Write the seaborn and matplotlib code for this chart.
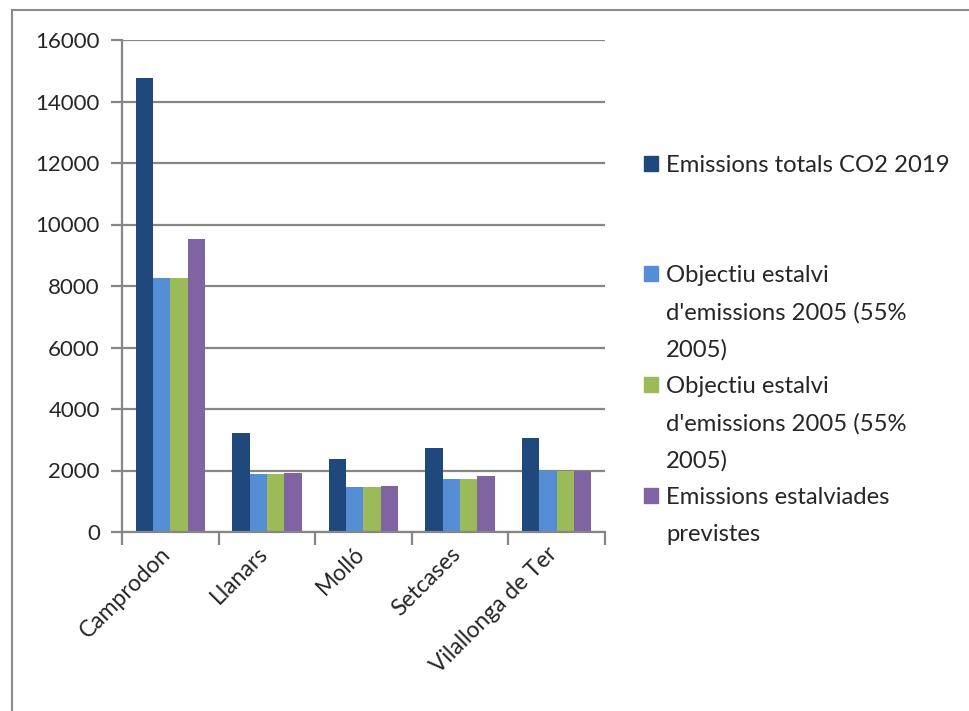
import numpy as np
import pandas as pd
import matplotlib
matplotlib.use('Agg')
import matplotlib.pyplot as plt
import matplotlib.patches as mpatches
import matplotlib.transforms as mtransforms
import seaborn as sns

municipis = ['Camprodon', 'Llanars', 'Molló', 'Setcases', 'Vilallonga de Ter']
series = ['Emissions totals CO2 2019',
          "Objectiu estalvi d'emissions 2005 (55% 2005)",
          "Objectiu estalvi d'emissions 2005 (55% 2005)",
          'Emissions estalviades previstes']
emissions_2019 = [14750, 3210, 2360, 2730, 3045]
objectiu_a = [8260, 1900, 1460, 1735, 1970]
objectiu_b = [8260, 1900, 1460, 1735, 1970]
estalviades = [9540, 1930, 1505, 1810, 1970]
colors = ['#1F497D', '#558ED5', '#9BBB59', '#8064A2']
# legend text, wrapped the way the original chart wraps it (None = empty line)
legend_lines = [['Emissions totals CO2 2019', None, None],
                ['Objectiu estalvi', "d'emissions 2005 (55%", '2005)'],
                ['Objectiu estalvi', "d'emissions 2005 (55%", '2005)'],
                ['Emissions estalviades', 'previstes']]

keys = ['s1', 's2', 's3', 's4']
df = pd.DataFrame({
    'municipi': municipis * 4,
    'serie': np.repeat(keys, len(municipis)),
    'valor': emissions_2019 + objectiu_a + objectiu_b + estalviades,
})

sns.set_style('white')
plt.rcParams['font.family'] = ['Lato', 'DejaVu Sans']

fig = plt.figure(figsize=(9.7, 7.11), dpi=100)
ax = fig.add_axes([122 / 970, 1 - 532 / 711, (605 - 122) / 970, (532 - 40) / 711])

sns.barplot(data=df, x='municipi', y='valor', hue='serie', order=municipis,
            hue_order=keys, palette=colors, width=0.72, gap=0,
            saturation=1, edgecolor='none', legend=False, ax=ax)

grid = '#868686'
ax.set_ylim(0, 16000)
ax.set_xlim(-0.5, 4.5)
ax.set_yticks(range(0, 16001, 2000))
ax.yaxis.grid(True, color=grid, linewidth=1.6)
ax.set_axisbelow(True)
for s in ['top', 'right']:
    ax.spines[s].set_visible(False)
for s in ['left', 'bottom']:
    ax.spines[s].set_color(grid)
    ax.spines[s].set_linewidth(1.6)
ax.set_xlabel('')
ax.set_ylabel('')
ax.tick_params(axis='y', length=8, width=1.6, color=grid, labelsize=16, pad=8, left=True)
ax.set_xticks(np.arange(-0.5, 5, 1), minor=True)
ax.tick_params(axis='x', which='minor', length=9, width=1.6, color=grid, bottom=True)
ax.tick_params(axis='x', which='major', length=0, labelsize=16.5, pad=8)
shift = mtransforms.ScaledTranslation(-10 / 100, 0, fig.dpi_scale_trans)
for lab in ax.get_xticklabels():
    lab.set_rotation(45)
    lab.set_ha('right')
    lab.set_rotation_mode('anchor')
    lab.set_transform(lab.get_transform() + shift)

# one legend row per text line; only the first line of each entry gets a swatch
handles, labels, blanks = [], [], []
for c, lines in zip(colors, legend_lines):
    for i, line in enumerate(lines):
        handles.append(mpatches.Patch(color=c if i == 0 else 'none'))
        if line is None:
            blanks.append(len(labels))
            line = 'Ag'
        labels.append(line)
leg = ax.legend(handles, labels, loc='upper left', bbox_to_anchor=(1.055, 0.79),
                frameon=False, fontsize=17.2, handlelength=0.6, handleheight=0.6,
                handletextpad=0.35, labelspacing=0.655, borderpad=0)
for i in blanks:
    leg.get_texts()[i].set_color('none')

fig.patches.append(mpatches.Rectangle((12 / 970, -0.01), 1.0, 1 - 10 / 711 + 0.01,
                                      transform=fig.transFigure, fill=False,
                                      edgecolor='#8c8c8c', linewidth=1.5))

fig.savefig('out.png', dpi=100)
